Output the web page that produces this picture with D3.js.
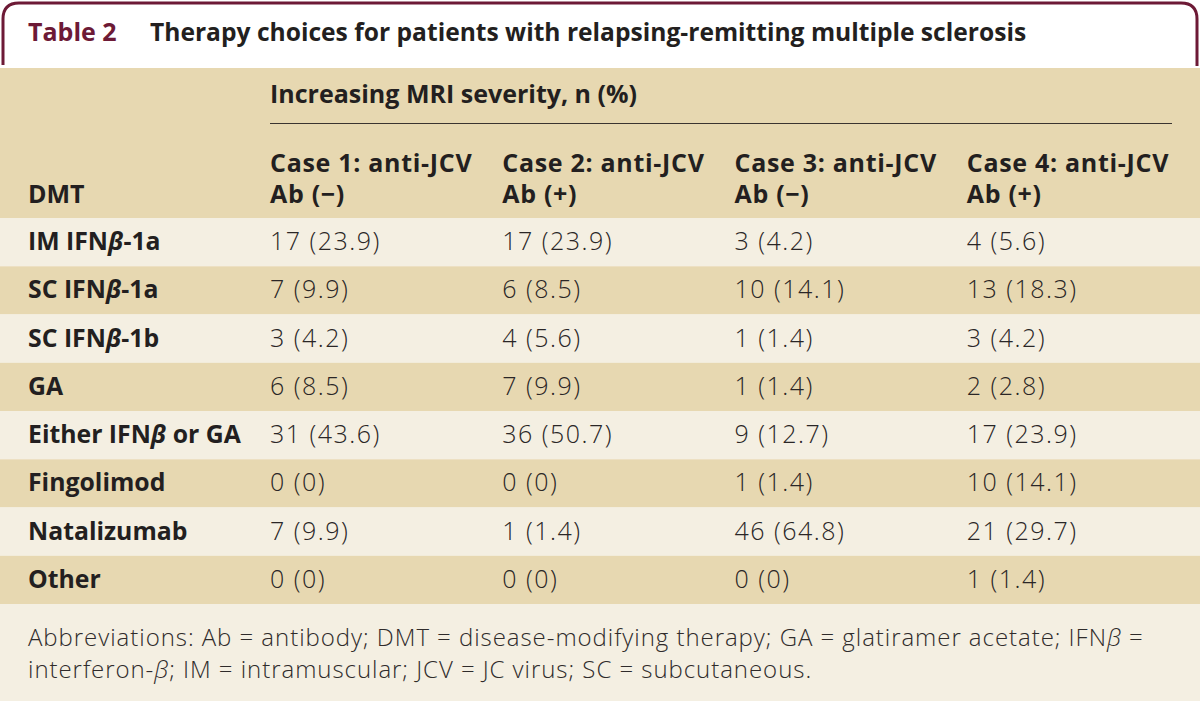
<!DOCTYPE html>
<html>
<head>
<meta charset="utf-8">
<script src="https://cdn.jsdelivr.net/npm/d3@7"></script>
<style>
  html, body { margin: 0; padding: 0; background: #ffffff; }
  svg { display: block; }
</style>
</head>
<body>
<script>
// ---- data ----
const tableNumber = "Table 2";
const title = "Therapy choices for patients with relapsing-remitting multiple sclerosis";
const spanner = "Increasing MRI severity, n (%)";
const stubHeader = "DMT";
const caseLine1 = ["Case 1: anti-JCV", "Case 2: anti-JCV", "Case 3: anti-JCV", "Case 4: anti-JCV"];
const caseLine2 = ["Ab (\u2212)", "Ab (+)", "Ab (\u2212)", "Ab (+)"];
const dmt = ["IM IFN\u03b2-1a", "SC IFN\u03b2-1a", "SC IFN\u03b2-1b", "GA", "Either IFN\u03b2 or GA", "Fingolimod", "Natalizumab", "Other"];
const case1N = [17, 7, 3, 6, 31, 0, 7, 0];
const case1Pct = ["23.9", "9.9", "4.2", "8.5", "43.6", "0", "9.9", "0"];
const case2N = [17, 6, 4, 7, 36, 0, 1, 0];
const case2Pct = ["23.9", "8.5", "5.6", "9.9", "50.7", "0", "1.4", "0"];
const case3N = [3, 10, 1, 1, 9, 1, 46, 0];
const case3Pct = ["4.2", "14.1", "1.4", "1.4", "12.7", "1.4", "64.8", "0"];
const case4N = [4, 13, 3, 2, 17, 10, 21, 1];
const case4Pct = ["5.6", "18.3", "4.2", "2.8", "23.9", "14.1", "29.7", "1.4"];
const footnoteLines = [
  "Abbreviations: Ab = antibody; DMT = disease-modifying therapy; GA = glatiramer acetate; IFN\u03b2 =",
  "interferon-\u03b2; IM = intramuscular; JCV = JC virus; SC = subcutaneous."
];

const caseN = [case1N, case2N, case3N, case4N];
const casePct = [case1Pct, case2Pct, case3Pct, case4Pct];

// ---- layout ----
const W = 1200, H = 701;
const FONT = "'Open Sans', Roboto, sans-serif";
const maroon = "#6d1a36";
const beige = "#e7d8b1";
const light = "#f4efe2";
const ink = "#231f20";

const svg = d3.select("body").append("svg").attr("width", W).attr("height", H)
  .style("font-family", FONT);

const y = d3.scaleBand().domain(dmt).range([218, 604]);
const x = d3.scaleBand().domain(d3.range(4)).range([270, 1199]);
const stubX = 28;

svg.append("rect").attr("x", 0).attr("y", 0).attr("width", W).attr("height", H).attr("fill", "#ffffff");
svg.append("rect").attr("x", 0).attr("y", 68).attr("width", W).attr("height", 218 - 68).attr("fill", beige);
svg.selectAll("rect.row").data(dmt).join("rect").attr("class", "row")
  .attr("x", 0).attr("y", d => y(d)).attr("width", W).attr("height", y.bandwidth())
  .attr("fill", (d, i) => i % 2 === 0 ? light : beige);
svg.append("rect").attr("x", 0).attr("y", 604).attr("width", W).attr("height", H - 604).attr("fill", light);

const r = 16;
svg.append("path")
  .attr("d", `M3,65 L3,${3 + r} Q3,3 ${3 + r},3 L${1197 - r},3 Q1197,3 1197,${3 + r} L1197,66`)
  .attr("fill", "none").attr("stroke", maroon).attr("stroke-width", 3);

const t = svg.append("text").attr("x", 28).attr("y", 41).attr("font-size", 25).attr("font-weight", 700);
t.append("tspan").attr("fill", maroon).text(tableNumber);
t.append("tspan").attr("x", 150).attr("fill", ink).attr("font-size", 24.6).text(title);

function richText(sel, str) {
  const parts = str.split("\u03b2");
  parts.forEach((p, i) => {
    if (p) sel.append("tspan").text(p);
    if (i < parts.length - 1) sel.append("tspan").attr("font-style", "italic").text("\u03b2");
  });
}

svg.append("text").attr("x", x(0)).attr("y", 103).attr("font-size", 25).attr("font-weight", 700)
  .attr("fill", ink).text(spanner);
svg.append("line").attr("x1", x(0)).attr("x2", 1172).attr("y1", 123.5).attr("y2", 123.5)
  .attr("stroke", "#3a3430").attr("stroke-width", 1);

svg.selectAll("text.case1").data(caseLine1).join("text").attr("class", "case1")
  .attr("x", (d, i) => x(i)).attr("y", 172).attr("font-size", 25).attr("font-weight", 700)
  .attr("letter-spacing", 0.7).attr("fill", ink).text(d => d);
svg.selectAll("text.case2").data(caseLine2).join("text").attr("class", "case2")
  .attr("x", (d, i) => x(i)).attr("y", 203).attr("font-size", 25).attr("font-weight", 700)
  .attr("letter-spacing", 0.7).attr("fill", ink).text(d => d);
svg.append("text").attr("x", stubX).attr("y", 203).attr("font-size", 25).attr("font-weight", 700)
  .attr("fill", ink).text(stubHeader);

svg.selectAll("text.stub").data(dmt).join("text").attr("class", "stub")
  .attr("x", stubX).attr("y", d => y(d) + 32)
  .attr("font-size", 24.8).attr("font-weight", 700).attr("fill", ink)
  .each(function (d) { richText(d3.select(this), d); });

caseN.forEach((col, ci) => {
  svg.selectAll(`text.cell${ci}`).data(dmt).join("text").attr("class", `cell${ci}`)
    .attr("x", x(ci)).attr("y", d => y(d) + 32)
    .attr("font-size", 25).attr("font-weight", 300).attr("letter-spacing", 1.5).attr("fill", "#2a2626")
    .text((d, i) => `${col[i]} (${casePct[ci][i]})`);
});

svg.selectAll("text.foot").data(footnoteLines).join("text").attr("class", "foot")
  .attr("x", stubX).attr("y", (d, i) => 646 + i * 32)
  .attr("font-size", 24).attr("font-weight", 300).attr("letter-spacing", 0.95).attr("fill", "#2f2b2b")
  .each(function (d) { richText(d3.select(this), d); });
</script>
</body>
</html>
